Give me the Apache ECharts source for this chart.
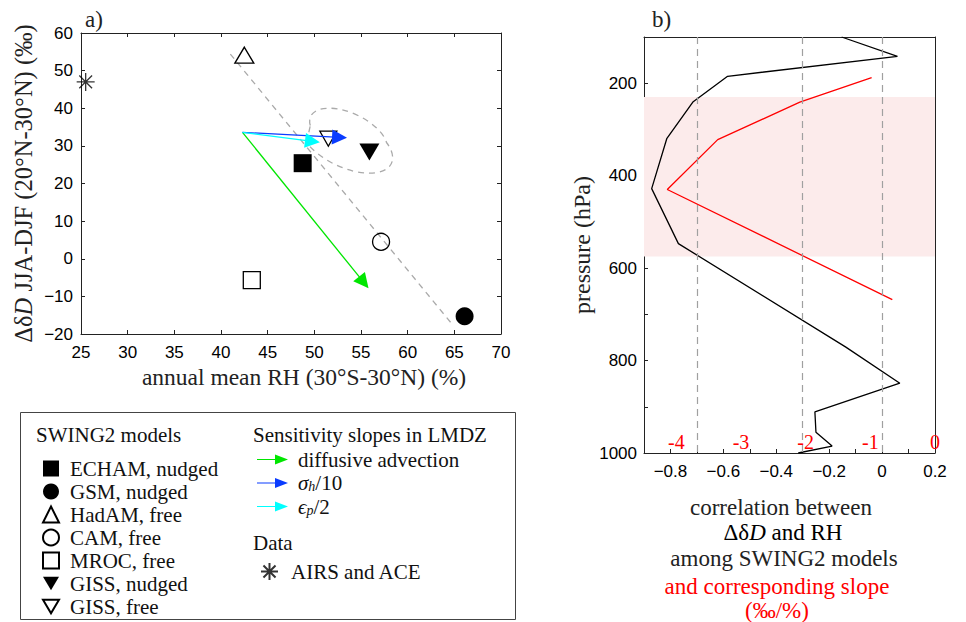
<!DOCTYPE html>
<html><head><meta charset="utf-8">
<script src="https://cdn.jsdelivr.net/npm/echarts@6/dist/echarts.min.js"></script>
<style>html,body{margin:0;padding:0;background:#fff}#c{width:966px;height:622px}</style>
</head><body><div id="c"></div>
<script>
// ---------- Panel a data ----------
const modelNames = ['ECHAM, nudged','GSM, nudged','HadAM, free','CAM, free','MROC, free','GISS, nudged','GISS, free'];
const modelRH = [48.75, 66.1, 42.5, 57.15, 43.3, 55.9, 51.5];
const modelDD = [25.4, -15.3, 54.1, 4.5, -5.7, 28.4, 31.9];
const obsName = 'AIRS and ACE';
const obsRH = [25.5];
const obsDD = [47.0];
const slopeNames = ['diffusive advection','σh/10','εp/2'];
const slopeStart = [42.3, 33.6];
const slopeEndRH = [55.3, 52.7, 49.8];
const slopeEndDD = [-6.3, 32.25, 31.2];
const regLineRH = [41.0, 64.8];
const regLineDD = [54.4, -17.5];
const ellipseAxisRH = [49.57, 57.33];
const ellipseAxisDD = [35.4, 26.4];
const ellipseRatio = 0.5;
const xTicksA = [25, 70, 5];
const yTicksA = [-20, 60, 10];
// ---------- Panel b data ----------
const pressBlack = [100,142,185,240,320,428,547,771,849,911,955,985,1000];
const corrBlack = [-0.153,0.058,-0.584,-0.714,-0.814,-0.871,-0.770,-0.137,0.067,-0.254,-0.250,-0.189,-0.317];
const pressRed = [188,241,322,430,668];
const slopeRed = [-0.98,-2.09,-3.36,-4.14,-0.66];
const shadeP = [230, 575];
const refCorr = [-0.7, -0.3, 0];
const corrRange = [-0.9, 0.2, 0.1];
const slopeRange = [-4.5, 0];
const slopeLabels = [-4, -3, -2, -1, 0];
const pressRange = [100, 1000, 100];

const SERIF = "Liberation Serif, DejaVu Serif, serif";
const SANS = "Liberation Sans, Arial, sans-serif";
const AX = '#222';
const minus = v => (v < 0 ? '\u2212' : '') + Math.abs(v);

const DOWN_TRI = 'path://M0,0 L20,0 L10,17 Z';
const modelStyle = [
  {symbol:'rect', size:18, fill:'#000'},
  {symbol:'circle', size:18, fill:'#000'},
  {symbol:'triangle', size:[19,16], fill:'transparent'},
  {symbol:'circle', size:17, fill:'transparent'},
  {symbol:'rect', size:17, fill:'transparent'},
  {symbol:DOWN_TRI, size:[20,17], fill:'#000'},
  {symbol:DOWN_TRI, size:[17,15], fill:'transparent'}
];
const slopeColors = ['#00e600', '#0a3cff', '#00ffff'];
const ASTER = 'path://M10,0 L10,20 M0,10 L20,10 M2.9,2.9 L17.1,17.1 M17.1,2.9 L2.9,17.1';
const ARROW = 'path://M0,4.4 L18,4.4 L18,0 L31,5 L18,10 L18,5.6 L0,5.6 Z';

const series = [];
series.push({type:'line', xAxisIndex:0, yAxisIndex:0, silent:true, symbol:'none', z:1,
  data: regLineRH.map((x,i)=>[x, regLineDD[i]]),
  lineStyle:{color:'#aaaaaa', width:1.3, type:[6,5]}});
series.push({type:'custom', xAxisIndex:0, yAxisIndex:0, silent:true, z:1,
  data:[[ellipseAxisRH[0], ellipseAxisDD[0], ellipseAxisRH[1], ellipseAxisDD[1]]],
  encode:{x:[0,2], y:[1,3]},
  renderItem:(params, api)=>{
    const p1 = api.coord([api.value(0), api.value(1)]);
    const p2 = api.coord([api.value(2), api.value(3)]);
    const dx = p2[0]-p1[0], dy = p2[1]-p1[1];
    const a = Math.hypot(dx,dy)/2, b = a*ellipseRatio;
    const deg = Math.atan2(dy,dx)*180/Math.PI;
    const d = `M${p1[0]},${p1[1]} A${a},${b} ${deg} 0 1 ${p2[0]},${p2[1]} A${a},${b} ${deg} 0 1 ${p1[0]},${p1[1]} Z`;
    return {type:'path', shape:{pathData:d}, style:{fill:'none', stroke:'#aaaaaa', lineWidth:1.3, lineDash:[6,5]}};
  }});
modelNames.forEach((n,i)=>{
  const s = modelStyle[i];
  series.push({type:'scatter', name:n, xAxisIndex:0, yAxisIndex:0, z:2,
    symbol:s.symbol, symbolSize:s.size,
    itemStyle:{color:s.fill, borderColor:'#000', borderWidth: s.fill==='#000'?0:1.3, opacity:1},
    data:[[modelRH[i], modelDD[i]]]});
});
series.push({type:'scatter', name:obsName, xAxisIndex:0, yAxisIndex:0, z:2,
  symbol:ASTER, symbolSize:18,
  itemStyle:{color:'transparent', borderColor:'#000', borderWidth:1.3},
  data: obsRH.map((x,i)=>[x, obsDD[i]])});
slopeNames.forEach((n,i)=>{
  series.push({type:'lines', name:n, coordinateSystem:'cartesian2d', xAxisIndex:0, yAxisIndex:0, z:3,
    symbol:['none','triangle'], symbolSize:[0,15], silent:true,
    lineStyle:{color:slopeColors[i], width:1.3, opacity:1},
    data:[{coords:[slopeStart, [slopeEndRH[i], slopeEndDD[i]]]}]});
});
series.push({type:'line', name:'corr', xAxisIndex:2, yAxisIndex:2, symbol:'none', z:3, silent:true,
  lineStyle:{color:'#000', width:1.3},
  data: corrBlack.map((c,i)=>[c, pressBlack[i]]),
  markArea:{silent:true, itemStyle:{color:'#fcebeb'}, data:[[{yAxis:shadeP[0]},{yAxis:shadeP[1]}]]},
  markLine:{silent:true, symbol:'none', label:{show:false}, animation:false,
    lineStyle:{color:'#a0a0a0', width:1.2, type:[7,5]},
    data: refCorr.map(v=>({xAxis:v}))}});
series.push({type:'line', name:'slope', xAxisIndex:3, yAxisIndex:2, symbol:'none', z:3, silent:true,
  lineStyle:{color:'#ff0000', width:1.3},
  data: slopeRed.map((s,i)=>[s, pressRed[i]])});

const tickIn = {show:true, inside:true, length:4, lineStyle:{color:AX, width:1}};
const lineAx = {show:true, onZero:false, lineStyle:{color:AX, width:1}};
const labA = {fontFamily:SANS, fontSize:17, color:'#000'};

const option = {
  animation:false,
  backgroundColor:'#fff',
  grid:[
    {left:81, top:33, width:420, height:301},
    {left:644, top:37, width:291, height:416}
  ],
  xAxis:[
    {type:'value', gridIndex:0, position:'bottom', min:xTicksA[0], max:xTicksA[1], interval:xTicksA[2],
     axisLine:lineAx, axisTick:tickIn, splitLine:{show:false},
     axisLabel:Object.assign({margin:10, formatter:minus}, labA),
     name:'annual mean RH (30°S-30°N) (%)', nameLocation:'middle', nameGap:31, nameMoveOverlap:false,
     nameTextStyle:{fontFamily:SERIF, fontSize:23.5, color:'#222', padding:[0,0,0,26]}},
    {type:'value', gridIndex:0, position:'top', min:xTicksA[0], max:xTicksA[1], interval:xTicksA[2],
     axisLine:lineAx, axisTick:tickIn, splitLine:{show:false}, axisLabel:{show:false}},
    {type:'value', gridIndex:1, position:'bottom', min:corrRange[0], max:corrRange[1], interval:corrRange[2],
     axisLine:lineAx, axisTick:tickIn, splitLine:{show:false},
     axisLabel:Object.assign({margin:10, formatter:v=>{const r=Math.round(v*10); if(r%2!==0) return ''; return r===0?'0':(r<0?'\u2212':'')+(Math.abs(r)/10).toFixed(1);}}, labA)},
    {type:'value', gridIndex:1, position:'bottom', min:slopeRange[0], max:slopeRange[1],
     axisLine:{show:false, onZero:false}, axisTick:{show:false}, splitLine:{show:false},
     axisLabel:{inside:true, margin:1, customValues:slopeLabels, formatter:v=>(v<0?'-':'')+Math.abs(v),
       fontFamily:SERIF, fontSize:20, color:'#ff0000'}},
    {type:'value', gridIndex:1, position:'top', min:corrRange[0], max:corrRange[1],
     axisLine:lineAx, axisTick:{show:false}, splitLine:{show:false}, axisLabel:{show:false}}
  ],
  yAxis:[
    {type:'value', gridIndex:0, position:'left', min:yTicksA[0], max:yTicksA[1], interval:yTicksA[2],
     axisLine:lineAx, axisTick:tickIn, splitLine:{show:false},
     axisLabel:Object.assign({margin:8, formatter:minus}, labA),
     name:'{n|Δδ}{i|D}{n| JJA-DJF (20°N-30°N) (‰)}', nameLocation:'middle', nameGap:45, nameRotate:90, nameMoveOverlap:false,
     nameTextStyle:{fontFamily:SERIF, fontSize:24.5, color:'#222',
       rich:{n:{fontFamily:SERIF, fontSize:24.5, color:'#222'}, i:{fontFamily:SERIF, fontSize:24.5, fontStyle:'italic', color:'#222'}}}},
    {type:'value', gridIndex:0, position:'right', min:yTicksA[0], max:yTicksA[1], interval:yTicksA[2],
     axisLine:lineAx, axisTick:tickIn, splitLine:{show:false}, axisLabel:{show:false}},
    {type:'value', gridIndex:1, position:'left', inverse:true, min:pressRange[0], max:pressRange[1], interval:pressRange[2],
     axisLine:lineAx, axisTick:tickIn, splitLine:{show:false},
     axisLabel:Object.assign({margin:7, formatter:v=>(v%200===0?String(v):'')}, labA),
     name:'pressure (hPa)', nameLocation:'middle', nameGap:50, nameRotate:90, nameMoveOverlap:false,
     nameTextStyle:{fontFamily:SERIF, fontSize:24, color:'#222'}},
    {type:'value', gridIndex:1, position:'right', inverse:true, min:pressRange[0], max:pressRange[1],
     axisLine:lineAx, axisTick:{show:false}, splitLine:{show:false}, axisLabel:{show:false}}
  ],
  legend:[
    {orient:'vertical', left:42, top:458, padding:0, itemWidth:16, itemHeight:16, itemGap:2, selectedMode:false,
     data:modelNames.map((n,i)=>({name:n, icon:modelStyle[i].symbol})),
     textStyle:{fontFamily:SERIF, fontSize:21, lineHeight:21, color:'#111', padding:[0,0,0,6]}},
    {orient:'vertical', left:257, top:449, padding:0, itemWidth:31, itemHeight:10, itemGap:2.5, selectedMode:false,
     data:slopeNames.map((n,i)=>({name:n, icon:ARROW, itemStyle:{color:slopeColors[i], borderWidth:0}})),
     formatter:n=>({'σh/10':'{i|σ}{s|h}/10','εp/2':'{i|ϵ}{s|p}/2'}[n]||n),
     textStyle:{fontFamily:SERIF, fontSize:21, lineHeight:21, color:'#111', padding:[0,0,0,5],
       rich:{i:{fontFamily:SERIF, fontSize:21, fontStyle:'italic', color:'#111', lineHeight:21},
             s:{fontFamily:SERIF, fontSize:14, fontStyle:'italic', color:'#111', verticalAlign:'bottom', lineHeight:14}}}},
    {orient:'vertical', left:260, top:561, padding:0, itemWidth:17, itemHeight:17, selectedMode:false,
     data:[obsName], textStyle:{fontFamily:SERIF, fontSize:21, lineHeight:21, color:'#111', padding:[0,0,0,8]}}
  ],
  graphic:[
    {type:'rect', shape:{x:20.5, y:412.5, width:495, height:207}, style:{fill:'none', stroke:'#444', lineWidth:1}, z:-1},
    {type:'text', x:36, y:435, style:{text:'SWING2 models', font:'21px ' + SERIF, fill:'#111', verticalAlign:'middle'}},
    {type:'text', x:253, y:435, style:{text:'Sensitivity slopes in LMDZ', font:'21px ' + SERIF, fill:'#111', verticalAlign:'middle'}},
    {type:'text', x:253, y:543, style:{text:'Data', font:'21px ' + SERIF, fill:'#111', verticalAlign:'middle'}},
    {type:'text', x:85, y:19, style:{text:'a)', font:'23px ' + SERIF, fill:'#222', verticalAlign:'middle'}},
    {type:'text', x:652, y:19, style:{text:'b)', font:'23px ' + SERIF, fill:'#222', verticalAlign:'middle'}},
    {type:'text', x:781, y:507, style:{text:'correlation between', font:'23px ' + SERIF, fill:'#222', align:'center', verticalAlign:'middle'}},
    {type:'text', x:783, y:532, style:{text:'{n|Δδ}{i|D}{n| and RH}', align:'center', verticalAlign:'middle',
       rich:{n:{fontFamily:SERIF, fontSize:23, color:'#222'}, i:{fontFamily:SERIF, fontSize:23, fontStyle:'italic', color:'#222'}}}},
    {type:'text', x:784, y:558, style:{text:'among SWING2 models', font:'23px ' + SERIF, fill:'#222', align:'center', verticalAlign:'middle'}},
    {type:'text', x:777, y:586, style:{text:'and corresponding slope', font:'23px ' + SERIF, fill:'#ff0000', align:'center', verticalAlign:'middle'}},
    {type:'text', x:777, y:610, style:{text:'(‰/%)', font:'23px ' + SERIF, fill:'#ff0000', align:'center', verticalAlign:'middle'}}
  ],
  series: series
};
const chart = echarts.init(document.getElementById('c'), null, {renderer:'svg'});
chart.setOption(option);
</script></body></html>
